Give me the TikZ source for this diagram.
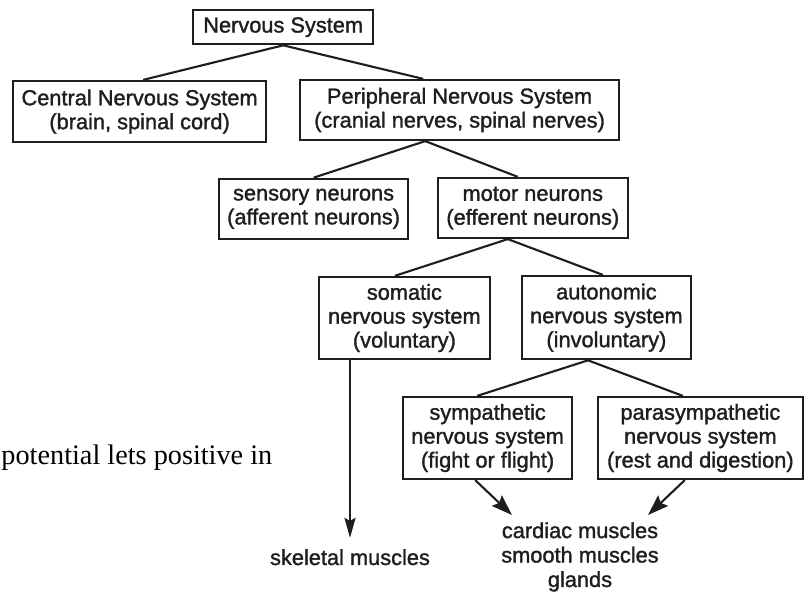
\documentclass[tikz,border=0pt]{standalone}
\usepackage{fontspec}
\newfontfamily\chartfont[FakeBold=1.4]{Liberation Sans}
\newfontfamily\bodyserif{Liberation Serif}
\usepackage{xcolor}
\usepackage{tikz}
\usetikzlibrary{arrows.meta, positioning, calc}
\definecolor{inkGray}{RGB}{30, 30, 30}

\begin{document}
\begin{tikzpicture}[
	nerve_box/.style  = {draw=inkGray, rectangle, line width=1.6pt, inner sep=2pt,
		align=center, text=inkGray, font=\fontsize{15.5}{17}\selectfont\chartfont},
	nerve_leaf/.style = {inner sep=0pt, align=center, text=inkGray,
		font=\fontsize{15.5}{17.4}\selectfont\chartfont},
	link/.style       = {draw=inkGray, line width=1.5pt},
	line/.style       = {-{Stealth[length=0.52cm, width=0.36cm, inset=0.08cm]},
		draw=inkGray, line width=1.5pt}
	]
	\useasboundingbox (0,0) rectangle (20.25,14.8);
	
	% running text of the page beside the chart
	\node[anchor=base west, inner sep=0pt, font=\fontsize{20.1}{24}\selectfont\bodyserif]
	(page_text) at (0.03,3.175) {potential lets positive in};
	
	\node[nerve_box, minimum width=4.5cm, minimum height=0.85cm] (ns) at (7.08,14.12) {Nervous System};
	\node[nerve_box, minimum width=6.33cm, minimum height=1.53cm] (cns) at (3.49,12.01)
	{Central Nervous System\\(brain, spinal cord)};
	\node[nerve_box, minimum width=7.98cm, minimum height=1.5cm] (pns) at (11.49,12.05)
	{Peripheral Nervous System\\(cranial nerves, spinal nerves)};
	
	\draw[link] (ns.south) -- ([xshift=0.09cm]cns.north);
	\draw[link] (ns.south) -- ([xshift=-0.91cm]pns.north);
	
	\node[nerve_box, minimum width=4.73cm, minimum height=1.5cm] (sens) at (7.84,9.58)
	{sensory neurons\\(afferent neurons)};
	\node[nerve_box, minimum width=4.75cm, minimum height=1.5cm] (mot) at (13.32,9.6)
	{motor neurons\\(efferent neurons)};
	
	\draw[link] ([xshift=-0.86cm]pns.south) -- (sens.north);
	\draw[link] ([xshift=-0.86cm]pns.south) -- ([xshift=-0.375cm]mot.north);
	
	\node[nerve_box, minimum width=4.28cm, minimum height=2.05cm] (som) at (10.11,6.85)
	{somatic\\nervous system\\(voluntary)};
	\node[nerve_box, minimum width=4.23cm, minimum height=2.08cm] (aut) at (15.16,6.86)
	{autonomic\\nervous system\\(involuntary)};
	
	\draw[link] ([xshift=-0.625cm]mot.south) -- ([xshift=-0.24cm]som.north);
	\draw[link] ([xshift=-0.625cm]mot.south) -- ([xshift=-0.09cm]aut.north);
	
	\node[nerve_box, minimum width=4.23cm, minimum height=2.05cm] (sym) at (12.19,3.85)
	{sympathetic\\nervous system\\(fight or flight)};
	\node[nerve_box, minimum width=5.13cm, minimum height=2.05cm] (para) at (17.51,3.85)
	{parasympathetic\\nervous system\\(rest and digestion)};
	
	\draw[link] ([xshift=-0.46cm]aut.south) -- ([xshift=-0.26cm]sym.north);
	\draw[link] ([xshift=-0.46cm]aut.south) -- ([xshift=-0.44cm]para.north);
	
	% effectors
	\node[nerve_leaf, anchor=base] (skel) at (8.75,0.675) {skeletal muscles};
	\node[nerve_leaf, anchor=north] (card) at (14.5,1.75)
	{cardiac muscles\\smooth muscles\\glands};
	
	\draw[line, line width=1pt, -{Stealth[length=0.5cm, width=0.28cm, inset=0.08cm]}]
	(skel.north |- som.south) -- ([yshift=0.28cm]skel.north);
	\draw[line] ([xshift=-0.31cm]sym.south) -- ([xshift=-1.7cm, yshift=0.175cm]card.north);
	\draw[line] ([xshift=-0.39cm]para.south) -- ([xshift=1.7cm, yshift=0.175cm]card.north);
\end{tikzpicture}
\end{document}
